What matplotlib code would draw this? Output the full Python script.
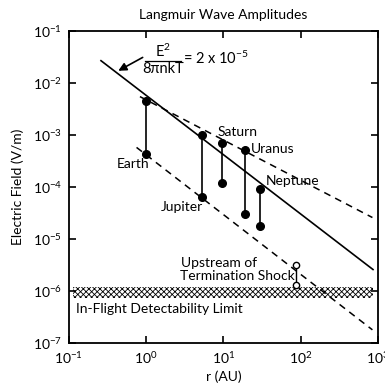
import matplotlib
matplotlib.use("Agg")
import matplotlib.pyplot as plt

plt.rcParams['font.family'] = ['Lato', 'DejaVu Sans']
plt.rcParams['mathtext.fontset'] = 'custom'
plt.rcParams['mathtext.rm'] = 'Lato'
plt.rcParams['mathtext.it'] = 'Lato'
plt.rcParams['mathtext.default'] = 'regular'
plt.rcParams['hatch.linewidth'] = 0.6

# planets: range of observed Langmuir wave amplitudes
planets = ["Earth", "Jupiter", "Saturn", "Uranus", "Neptune"]
r_au = [1.0, 5.2, 9.5, 19.2, 30.1]
e_max = [4.5e-3, 1.0e-3, 7.2e-4, 5.2e-4, 9.0e-5]
e_min = [4.3e-4, 6.5e-5, 1.2e-4, 3.0e-5, 1.8e-5]

# upstream of termination shock (open circles)
ts_r = [87, 87]
ts_e = [3.2e-6, 1.3e-6]

# E^2/8pi nkT = 2e-5 threshold line and dashed envelopes
thr_r = [0.26, 860]
thr_e = [2.7e-2, 2.6e-6]
upper_r = [0.83, 845]
upper_e = [5.5e-3, 2.6e-5]
lower_r = [0.75, 845]
lower_e = [5.8e-4, 1.8e-7]

# in-flight detectability band
band_r = [0.112, 870]
band_lo = 7.3e-7
band_hi = 1.19e-6

fig = plt.figure(figsize=(3.85, 3.89), dpi=100)
ax = fig.add_axes([0.179, 0.118, 0.803, 0.802])
ax.set_xscale('log')
ax.set_yscale('log')
ax.set_xlim(0.1, 1000)
ax.set_ylim(1e-7, 1e-1)

ax.fill_between(band_r, band_lo, band_hi, facecolor='white', edgecolor='black',
                hatch='xxxxxx', linewidth=0)

ax.plot(thr_r, thr_e, color='black', lw=1.2)
ax.plot(upper_r, upper_e, color='black', lw=1.1, dashes=(4.5, 3.5))
ax.plot(lower_r, lower_e, color='black', lw=1.1, dashes=(4.5, 3.5))

for r, lo, hi in zip(r_au, e_min, e_max):
    ax.plot([r, r], [lo, hi], color='black', lw=1.2, marker='o', ms=5.5,
            mfc='black', mec='black')
ax.plot(ts_r, ts_e, color='black', lw=1.0, marker='o', ms=4.5,
        mfc='white', mec='black', mew=1.0)

fs = 10
ax.text(0.674, 2.77e-4, "Earth", ha='center', va='center', fontsize=fs)
ax.text(2.9, 4.2e-5, "Jupiter", ha='center', va='center', fontsize=fs)
ax.text(15.2, 1.14e-3, "Saturn", ha='center', va='center', fontsize=fs)
ax.text(43, 5.4e-4, "Uranus", ha='center', va='center', fontsize=fs)
ax.text(77.8, 1.32e-4, "Neptune", ha='center', va='center', fontsize=fs)
ax.text(8.87, 3.47e-6, "Upstream of", ha='center', va='center', fontsize=fs)
ax.text(15, 1.97e-6, "Termination Shock", ha='center', va='center', fontsize=fs)
ax.text(0.125, 4.45e-7, "In-Flight Detectability Limit", ha='left', va='center', fontsize=fs)

# threshold formula with arrow
ax.annotate('', xy=(0.435, 0.01726), xytext=(0.90, 0.0312),
            arrowprops=dict(arrowstyle='-|>', color='black', lw=1.2,
                            mutation_scale=12, shrinkA=0, shrinkB=0))
ffs = 10.5
ax.text(1.65, 0.0405, r'E$^2$', ha='center', va='center', fontsize=ffs)
ax.text(1.65, 0.0186, '8πnkT', ha='center', va='center', fontsize=ffs)
ax.plot([0.96, 2.85], [0.0272, 0.0272], color='black', lw=0.9)
ax.text(3.0, 0.0305, r'= 2 x 10$^{-5}$', ha='left', va='center', fontsize=ffs)

ax.set_title("Langmuir Wave Amplitudes", fontsize=fs, pad=9)
ax.set_xlabel("r (AU)", fontsize=fs, labelpad=3)
ax.set_ylabel("Electric Field (V/m)", fontsize=fs, labelpad=6)

ax.minorticks_off()
ax.tick_params(which='major', direction='in', length=5, width=1.2, top=True, right=True,
               labelsize=fs, pad=5)
for s in ax.spines.values():
    s.set_linewidth(1.3)

fig.savefig("out.png", dpi=100)
